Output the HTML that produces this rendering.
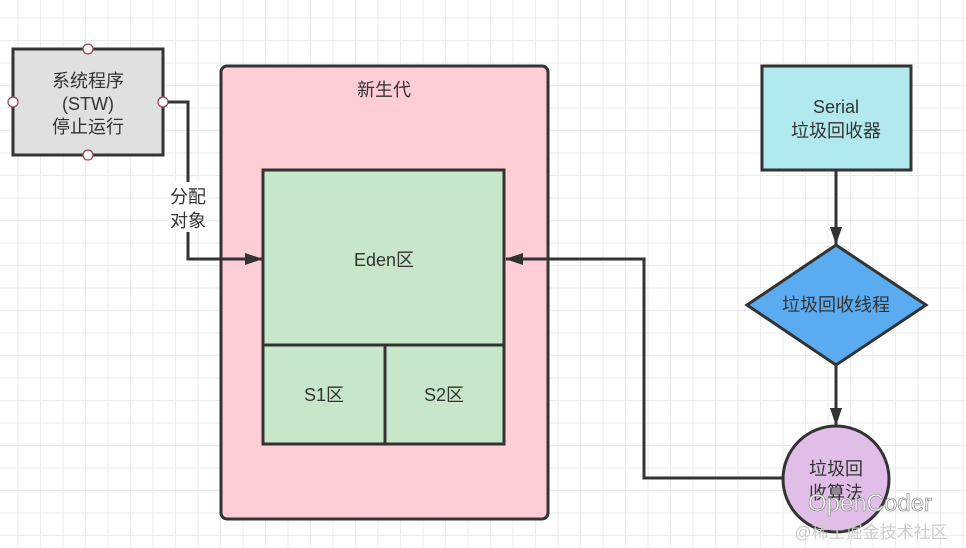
<!DOCTYPE html>
<html><head><meta charset="utf-8"><style>
body{margin:0;width:966px;height:548px;overflow:hidden;background:#fff;
background-image:linear-gradient(#ebebeb 1px,transparent 1px),linear-gradient(90deg,#ebebeb 1px,transparent 1px);background-size:22.5px 22.5px;background-position:-5px -5px;}
svg{position:absolute;left:0;top:0}
text{font-family:"Liberation Sans","Noto Sans CJK SC",sans-serif;font-size:18px;fill:#333;text-anchor:middle}
</style></head><body>
<svg width="966" height="548" viewBox="0 0 966 548">
<defs><marker id="b" markerWidth="18" markerHeight="12" refX="17" refY="6" orient="auto" markerUnits="userSpaceOnUse"><path d="M0,0 L18,6 L0,12 Z" fill="#333"/></marker></defs>
<rect x="221" y="66" width="327" height="453" rx="6" fill="#ffcdd6" stroke="#333" stroke-width="3"/>
<text x="384" y="96">新生代</text>
<rect x="263" y="170" width="241" height="175" fill="#c8e6c9" stroke="#333" stroke-width="3"/>
<text x="384" y="266">Eden区</text>
<rect x="263" y="345" width="122" height="99" fill="#c8e6c9" stroke="#333" stroke-width="3"/>
<rect x="385" y="345" width="119" height="99" fill="#c8e6c9" stroke="#333" stroke-width="3"/>
<text x="324" y="401">S1区</text><text x="444" y="401">S2区</text>
<rect x="13" y="49" width="150" height="106" fill="#e0e0e0" stroke="#333" stroke-width="3"/>
<text x="88" y="87">系统程序</text><text x="88" y="110">(STW)</text><text x="88" y="133">停止运行</text>
<g fill="#fff" stroke="#a04050" stroke-width="1.2"><circle cx="88" cy="49" r="5"/><circle cx="13" cy="102" r="5"/><circle cx="163" cy="102" r="5"/><circle cx="88" cy="155" r="5"/></g>
<path d="M168,102 H188 V259 H262" fill="none" stroke="#333" stroke-width="3" marker-end="url(#b)"/>
<rect x="168" y="182" width="40" height="50" fill="#fff"/>
<text x="188" y="203">分配</text><text x="188" y="227">对象</text>
<rect x="762" y="66" width="149" height="104" fill="#b1e9ee" stroke="#333" stroke-width="3"/>
<text x="836" y="113">Serial</text><text x="836" y="137">垃圾回收器</text>
<path d="M836,170 V244" stroke="#333" stroke-width="3" marker-end="url(#b)"/>
<path d="M836,245 L926,305 L836,365 L747,305 Z" fill="#5aabf0" stroke="#333" stroke-width="3"/>
<text x="836" y="311">垃圾回收线程</text>
<path d="M836,365 V425" stroke="#333" stroke-width="3" marker-end="url(#b)"/>
<path d="M783,478 H644 V259 H506" fill="none" stroke="#333" stroke-width="3" marker-end="url(#b)"/>
<circle cx="836" cy="479" r="53" fill="#e1bee7" stroke="#333" stroke-width="3"/>
<text x="836" y="475">垃圾回</text><text x="836" y="499">收算法</text>
<text x="870" y="511" style="font-size:24px;fill:#fff;stroke:#999;stroke-width:0.8">OpenCoder</text>
<text x="871" y="538" style="font-size:17px;fill:#ccc">@稀土掘金技术社区</text>
</svg>
</body></html>
